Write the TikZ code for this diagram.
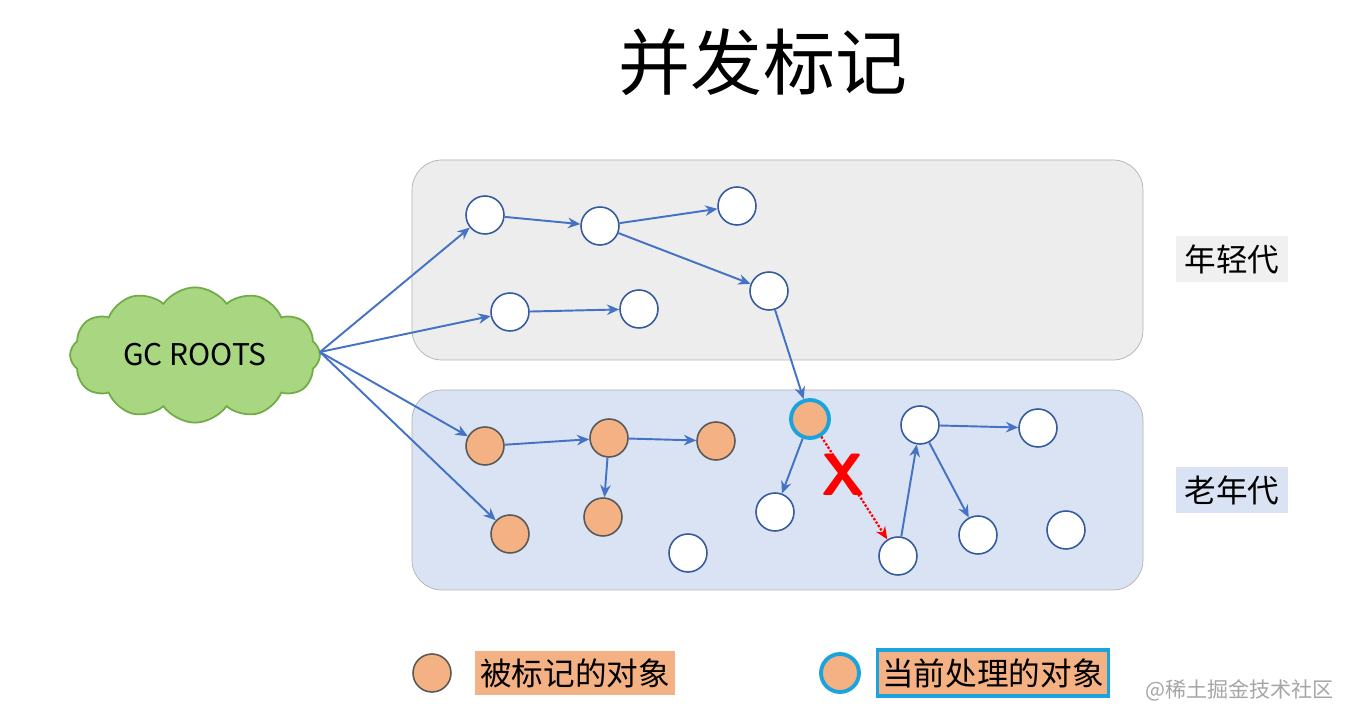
\documentclass[tikz,border=0pt]{standalone}
\usepackage{fontspec}
\setmainfont{Noto Sans CJK SC}
\usetikzlibrary{shapes.symbols,arrows.meta}
\definecolor{ablue}{HTML}{4472C4}
\definecolor{org}{HTML}{F4B183}
\definecolor{cyanb}{HTML}{1AA3DD}
\begin{document}
\begin{tikzpicture}[x=0.02cm,y=-0.02cm,
 obj/.style={circle,draw=ablue!80!black,fill=white,line width=0.9pt,minimum size=0.76cm,inner sep=0},
 mk/.style={obj,fill=org,draw=gray!70!black},
 cur/.style={obj,fill=org,draw=cyanb,line width=2.2pt},
 ar/.style={-{Stealth[length=7pt,width=6pt]},ablue,line width=1.1pt},
 lab/.style={font=\fontsize{18}{22}\selectfont,inner sep=0,minimum width=2.25cm,minimum height=0.92cm}]
\useasboundingbox (0,0) rectangle (1357,719);
\fill[white] (0,0) rectangle (1357,719);
\node[font=\fontsize{41}{48}\selectfont] (title) at (763,62) {并发标记};
\draw[rounded corners=0.6cm,fill=gray!14,draw=gray!60] (412,160) rectangle (1143,360);
\draw[rounded corners=0.6cm,fill={rgb,255:red,218;green,227;blue,243},draw=gray!60] (412,390) rectangle (1143,590);
\node[lab,fill=gray!12] (yg) at (1232,259) {年轻代};
\node[lab,fill={rgb,255:red,218;green,227;blue,243}] (og) at (1232,490) {老年代};
\node[cloud,cloud puffs=12,cloud puff arc=110,aspect=2,draw={rgb,255:red,112;green,173;blue,71},fill={rgb,255:red,169;green,214;blue,128},line width=1pt,minimum width=5cm,minimum height=2.6cm,font=\fontsize{17}{20}\selectfont] (gc) at (195,355) {GC ROOTS};
\coordinate (gr) at (320,352);
\node[obj] (a1) at (485,215) {};
\node[obj] (a2) at (600,226) {};
\node[obj] (a3) at (737,206) {};
\node[obj] (a4) at (769,291) {};
\node[obj] (a5) at (510,312) {};
\node[obj] (a6) at (639,309) {};
\node[mk] (b1) at (485,446) {};
\node[mk] (b2) at (609,438) {};
\node[mk] (b3) at (716,441) {};
\node[mk] (b4) at (603,517) {};
\node[mk] (b5) at (510,534) {};
\node[cur] (c) at (810,419) {};
\node[obj] (w1) at (775,512) {};
\node[obj] (w2) at (688,553) {};
\node[obj] (w3) at (920,425) {};
\node[obj] (w4) at (1038,428) {};
\node[obj] (w5) at (898,556) {};
\node[obj] (w6) at (978,535) {};
\node[obj] (w7) at (1066,530) {};
\foreach \t in {a1,a5,b1,b5} \draw[ar] (gr) -- (\t);
\draw[ar] (a1)--(a2); \draw[ar] (a2)--(a3); \draw[ar] (a2)--(a4);
\draw[ar] (a5)--(a6); \draw[ar] (a4)--(c);
\draw[ar] (b1)--(b2); \draw[ar] (b2)--(b3); \draw[ar] (b2)--(b4);
\draw[ar] (c)--(w1); \draw[ar] (w5)--(w3); \draw[ar] (w3)--(w4); \draw[ar] (w3)--(w6);
\draw[-{Stealth[length=7pt,width=6pt]},red,densely dotted,line width=1.3pt] (c)--(w5);
\node[text=red,font=\bfseries\sffamily\fontsize{34}{40}\selectfont] (x) at (843,475) {X};
\node[mk] (l1) at (432,673) {};
\node[fill=org,inner sep=0,minimum width=4cm,minimum height=0.9cm,font=\fontsize{18}{22}\selectfont] (lt1) at (575,673) {被标记的对象};
\node[cur] (l2) at (840,673) {};
\node[fill=org,draw=cyanb,line width=2pt,inner sep=0,minimum width=4.62cm,minimum height=0.92cm,font=\fontsize{18}{22}\selectfont] (lt2) at (993,673) {当前处理的对象};
\node[text=gray!70,font=\fontsize{12}{14}\selectfont,anchor=east] (wm) at (1340,690) {@稀土掘金技术社区};
\end{tikzpicture}
\end{document}
